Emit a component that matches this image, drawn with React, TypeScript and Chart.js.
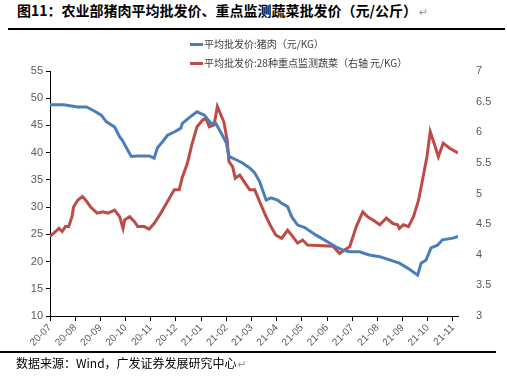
import React, { useEffect, useRef } from "react";
import { Chart, registerables } from "chart.js";

Chart.register(...registerables);

const monthLabels = ["20-07","20-08","20-09","20-10","20-11","20-12","21-01","21-02","21-03","21-04","21-05","21-06","21-07","21-08","21-09","21-10","21-11"];

const porkDates = ["2020-07-01","2020-07-18","2020-08-04","2020-08-15","2020-08-24","2020-09-02","2020-09-08","2020-09-18","2020-09-24","2020-09-27","2020-10-02","2020-10-08","2020-10-15","2020-10-30","2020-11-05","2020-11-09","2020-11-15","2020-11-21","2020-11-29","2020-12-07","2020-12-09","2020-12-17","2020-12-27","2021-01-05","2021-01-13","2021-01-19","2021-01-25","2021-02-01","2021-02-04","2021-02-12","2021-02-19","2021-02-27","2021-03-05","2021-03-11","2021-03-19","2021-03-25","2021-04-02","2021-04-07","2021-04-14","2021-04-19","2021-04-26","2021-05-04","2021-05-18","2021-06-04","2021-06-14","2021-06-20","2021-06-28","2021-07-10","2021-07-22","2021-08-04","2021-08-16","2021-08-28","2021-09-07","2021-09-19","2021-09-23","2021-09-29","2021-10-05","2021-10-13","2021-10-19","2021-11-01","2021-11-07"];
const porkValues = [48.8,48.8,48.4,48.4,47.7,46.9,45.7,44.7,42.9,42.3,40.9,39.3,39.4,39.4,39.0,40.9,42.0,43.2,43.8,44.5,45.4,46.4,47.5,46.9,45.4,45.4,43.8,41.8,39.3,38.7,38.1,37.2,36.3,34.7,31.3,31.7,31.3,30.7,30.1,28.2,26.7,26.3,24.9,23.4,22.5,22.1,21.8,21.8,21.2,20.9,20.3,19.7,18.8,17.5,19.7,20.3,22.5,23.0,24.0,24.3,24.6];

const vegDates = ["2020-07-01","2020-07-08","2020-07-12","2020-07-16","2020-07-20","2020-07-24","2020-07-28","2020-07-30","2020-08-04","2020-08-10","2020-08-14","2020-08-20","2020-08-28","2020-09-04","2020-09-10","2020-09-18","2020-09-24","2020-09-28","2020-09-30","2020-10-06","2020-10-12","2020-10-16","2020-10-24","2020-10-30","2020-11-05","2020-11-13","2020-11-21","2020-11-29","2020-12-05","2020-12-09","2020-12-15","2020-12-21","2020-12-27","2021-01-03","2021-01-07","2021-01-11","2021-01-17","2021-01-21","2021-01-29","2021-02-02","2021-02-04","2021-02-08","2021-02-11","2021-02-16","2021-02-21","2021-02-27","2021-03-05","2021-03-11","2021-03-19","2021-03-25","2021-03-31","2021-04-07","2021-04-14","2021-04-20","2021-04-26","2021-05-02","2021-05-08","2021-06-08","2021-06-16","2021-06-22","2021-06-28","2021-07-06","2021-07-14","2021-07-20","2021-07-26","2021-08-04","2021-08-12","2021-08-20","2021-08-26","2021-08-28","2021-09-02","2021-09-08","2021-09-14","2021-09-20","2021-09-24","2021-09-30","2021-10-04","2021-10-10","2021-10-14","2021-10-20","2021-10-28","2021-11-07"];
const vegValues = [4.30,4.38,4.43,4.38,4.46,4.46,4.62,4.78,4.89,4.95,4.89,4.78,4.68,4.70,4.68,4.73,4.62,4.43,4.57,4.62,4.54,4.46,4.46,4.42,4.51,4.68,4.87,5.06,5.06,5.27,5.49,5.82,6.09,6.20,6.23,6.09,6.12,6.42,6.17,5.87,5.52,5.44,5.25,5.30,5.19,5.06,5.06,4.87,4.62,4.46,4.32,4.27,4.40,4.30,4.19,4.24,4.16,4.14,4.02,4.08,4.13,4.46,4.70,4.62,4.57,4.49,4.60,4.51,4.49,4.43,4.49,4.46,4.62,4.89,5.17,5.60,6.01,5.77,5.60,5.82,5.74,5.66];

const porkLabel = "平均批发价:猪肉（元/KG）";
const vegLabel = "平均批发价:28种重点监测蔬菜（右轴 元/KG）";
const titleText = "图11：农业部猪肉平均批发价、重点监测蔬菜批发价（元/公斤）";
const sourceText = "数据来源：Wind，广发证券发展研究中心";

const BLUE = "#4A7EBB";
const RED = "#BE4B48";

function toMonthIndex(s: string): number {
  const [y, m, d] = s.split("-").map(Number);
  const dim = new Date(y, m, 0).getDate();
  return (y - 2020) * 12 + (m - 7) + (d - 1) / dim;
}

export default function App() {
  const ref = useRef<HTMLCanvasElement | null>(null);
  useEffect(() => {
    if (!ref.current) return;
    const tickFont = { family: "'Liberation Sans', Arial, sans-serif", size: 11 };
    const chart = new Chart(ref.current, {
      type: "line",
      data: {
        datasets: [
          {
            label: porkLabel,
            data: porkDates.map((d, i) => ({ x: toMonthIndex(d), y: porkValues[i] })),
            borderColor: BLUE,
            backgroundColor: BLUE,
            borderWidth: 3,
            pointRadius: 0,
            tension: 0,
            yAxisID: "y",
          },
          {
            label: vegLabel,
            data: vegDates.map((d, i) => ({ x: toMonthIndex(d), y: vegValues[i] })),
            borderColor: RED,
            backgroundColor: RED,
            borderWidth: 3,
            pointRadius: 0,
            tension: 0,
            yAxisID: "y1",
          },
        ],
      },
      options: {
        responsive: false,
        animation: false,
        layout: { padding: { top: 71, right: 0, bottom: 0, left: 0 } },
        plugins: { legend: { display: false }, tooltip: { enabled: false } },
        scales: {
          x: {
            type: "linear",
            min: 0,
            max: 16.2,
            afterBuildTicks: (scale: any) => {
              scale.ticks = monthLabels.map((_, i) => ({ value: i }));
            },
            afterFit: (scale: any) => {
              scale.height = 60;
            },
            ticks: {
              autoSkip: false,
              maxRotation: 45,
              minRotation: 45,
              padding: 1,
              color: "#595959",
              font: { family: "'Liberation Sans', Arial, sans-serif", size: 10 },
              callback: (v: any) => monthLabels[Math.round(Number(v))] ?? "",
            },
            grid: { display: true, drawOnChartArea: false, drawTicks: true, tickLength: 5, tickColor: "#000", color: "#000" },
            border: { display: true, color: "#000", width: 1 },
          },
          y: {
            position: "left",
            min: 10,
            max: 55,
            afterFit: (scale: any) => {
              scale.width = 50;
            },
            ticks: { stepSize: 5, color: "#595959", font: tickFont, padding: 3 },
            grid: { display: true, drawOnChartArea: false, drawTicks: true, tickLength: 4, tickColor: "#000", color: "#000" },
            border: { display: true, color: "#000", width: 1 },
          },
          y1: {
            position: "right",
            min: 3,
            max: 7,
            afterFit: (scale: any) => {
              scale.width = 49;
            },
            ticks: {
              stepSize: 0.5,
              color: "#595959",
              font: tickFont,
              padding: 10,
              callback: (v: any) => String(Number(v)),
            },
            grid: { display: false, drawOnChartArea: false },
            border: { display: false },
          },
        },
      },
    });
    return () => chart.destroy();
  }, []);

  const legendItem = (color: string, text: string, top: number) => (
    <div style={{ position: "absolute", left: 190, top, height: 14, display: "flex", alignItems: "center" }}>
      <div style={{ width: 13, height: 3, background: color, marginRight: 1 }} />
      <span style={{ fontSize: 10, color: "#404040", fontFamily: "'Noto Sans CJK SC', 'Liberation Sans', sans-serif", whiteSpace: "nowrap", lineHeight: "14px" }}>{text}</span>
    </div>
  );

  return (
    <div style={{ position: "absolute", left: 0, top: 0, width: 507, height: 376, background: "#fff", overflow: "hidden" }}>
      <div style={{ position: "absolute", left: 17, top: 1, fontSize: 14, fontWeight: "bold", color: "#000", fontFamily: "'Noto Sans CJK SC', sans-serif", whiteSpace: "nowrap", lineHeight: "18px" }}>
        {titleText}
        <span style={{ color: "#999", fontWeight: "normal", fontFamily: "'DejaVu Sans', sans-serif", fontSize: 11, marginLeft: 2 }}>↵</span>
      </div>
      <div style={{ position: "absolute", left: 8, top: 28, width: 497, height: 1.5, background: "#000" }} />
      <canvas ref={ref} width={507} height={376} style={{ position: "absolute", left: 0, top: 0 }} />
      {legendItem(BLUE, porkLabel, 37)}
      {legendItem(RED, vegLabel, 56)}
      <div style={{ position: "absolute", left: 0, top: 351, width: 496, height: 1.5, background: "#000" }} />
      <div style={{ position: "absolute", left: 16, top: 354, fontSize: 12, color: "#000", fontFamily: "'Noto Sans CJK SC', sans-serif", whiteSpace: "nowrap", lineHeight: "17px" }}>
        {sourceText}
        <span style={{ color: "#999", fontFamily: "'DejaVu Sans', sans-serif", fontSize: 11, marginLeft: 1 }}>↵</span>
      </div>
    </div>
  );
}
